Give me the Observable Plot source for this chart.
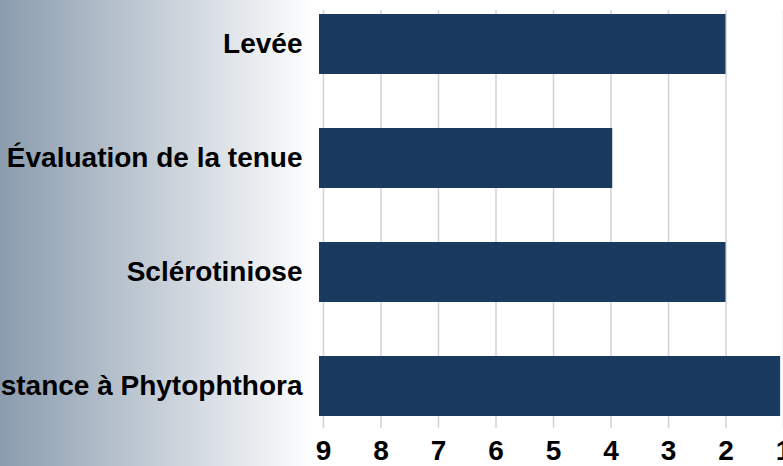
<!DOCTYPE html>
<html><head><meta charset="utf-8">
<script src="https://cdn.jsdelivr.net/npm/d3@7"></script>
<script src="https://cdn.jsdelivr.net/npm/@observablehq/plot@0.6"></script>
<style>
html,body{margin:0;padding:0;width:783px;height:466px;overflow:hidden;}
body{background:linear-gradient(to right,#8a9cae 0px,#ffffff 315px,#ffffff 783px);}
</style></head><body><div id="chart"></div>
<script>
const categories = ["Levée", "Évaluation de la tenue", "Sclérotiniose", "Résistance à Phytophthora"];
const values = [2, 3.97, 2, 1.05];
const xTicks = [9, 8, 7, 6, 5, 4, 3, 2, 1];
const baseline = 9;
const data = categories.map((c, i) => ({category: c, value: values[i]}));
const chart = Plot.plot({
  width: 783, height: 466,
  marginLeft: 323, marginRight: 0, marginTop: 10, marginBottom: 38,
  style: {background: "transparent", fontFamily: "'Liberation Sans', Arial, sans-serif", fontSize: "28px", fontWeight: "bold", color: "#000", overflow: "visible"},
  x: {domain: [9, 1], ticks: xTicks, tickSize: 0, tickPadding: 12, label: null, tickFormat: d => String(d)},
  y: {domain: categories, paddingInner: 0.47, paddingOuter: 0.0524, align: 0.25, tickSize: 0, tickPadding: 21, label: null},
  marks: [
    Plot.ruleX(xTicks, {stroke: "#d3d3d3", strokeWidth: 1.5, strokeOpacity: 1}),
    Plot.barX(data, {y: "category", x1: baseline, x2: "value", fill: "#1b3a5f", insetLeft: -4})
  ]
});
document.getElementById("chart").appendChild(chart);
</script></body></html>
